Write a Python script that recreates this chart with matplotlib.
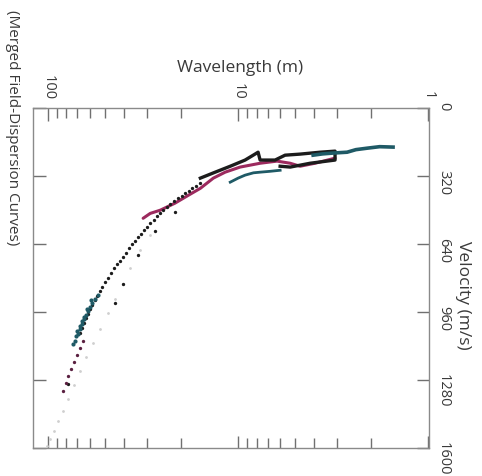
import matplotlib
matplotlib.use("Agg")
import matplotlib.pyplot as plt
from matplotlib.ticker import LogLocator, FixedLocator, NullFormatter

plt.rcParams['font.family'] = ['Open Sans', 'DejaVu Sans']

# ---- data (wavelength m, velocity m/s) ----
teal_line_wl = [1.53, 1.8, 2.09, 2.4, 2.67, 3.16, 3.6, 4.03]
teal_line_v = [184, 182, 189, 196, 208, 212, 216, 222]
teal_low_wl = [11.0, 10.0, 9.19, 8.3, 7.66, 6.8, 6.01]
teal_low_v = [349, 330, 316, 305, 302, 298, 293]

black_line_wl = [15.8, 13.2, 11.0, 9.19, 8.15, 7.85, 7.66, 6.39, 5.66, 4.72, 3.70, 3.09,
                 3.09, 4.18, 5.32, 6.01]
black_line_v = [330, 302, 274, 245, 217, 208, 245, 245, 222, 217, 208, 203,
                245, 260, 278, 274]

magenta_line_wl = [31.6, 29.0, 25.7, 21.5, 17.9, 15.8, 13.5, 11.7, 9.76, 7.66, 6.24,
                   5.32, 4.72, 3.94, 3.09]
magenta_line_v = [519, 496, 481, 448, 406, 378, 330, 302, 278, 260, 250,
                  260, 274, 260, 236]

black_dots_wl = [15.8, 16.6, 17.5, 18.2, 19.0, 19.8, 20.7, 21.7, 22.8, 23.8, 24.8, 25.7,
                 26.7, 27.8, 29.0, 30.1, 31.3, 32.4, 33.6, 34.8, 36.1, 37.4, 38.8, 40.2,
                 41.8, 43.3, 45.0, 46.6, 48.3, 50.1, 52.0, 53.6, 55.2, 56.9, 58.6, 60.0,
                 61.5, 63.1, 64.7, 66.3, 67.9, 78.5,
                 44.4, 40.3, 33.6, 21.5, 27.5]
black_dots_v = [354, 366, 378, 390, 401, 413, 425, 439, 453, 467, 481, 495,
                510, 526, 543, 560, 576, 592, 609, 625, 642, 661, 680, 699,
                718, 736, 755, 777, 798, 819, 840, 862, 883, 904, 925, 947,
                968, 989, 1010, 1034, 1057, 1298,
                916, 826, 694, 491, 578]

teal_dots_wl = [73.9, 72.1, 69.5, 67.9, 66.3, 64.7, 63.1, 61.5, 60.1, 58.6, 56.6, 54.6,
                70.3, 66.3, 62.3, 71.5, 68.0, 65.0, 59.5]
teal_dots_v = [1109, 1095, 1062, 1038, 1015, 991, 972, 953, 935, 916, 897, 878,
               1050, 1000, 945, 1075, 1025, 985, 905]

magenta_dots_wl = [65.5, 67.9, 70.3, 72.9, 75.7, 78.5, 80.4, 83.4]
magenta_dots_v = [1095, 1128, 1161, 1194, 1227, 1260, 1293, 1331]

grey_dots_wl = [29.0, 32.8, 37.0, 40.3, 44.4, 48.3, 53.2, 57.9, 63.1, 67.9, 72.9, 78.5,
                83.4, 88.6, 92.9, 97.6, 101.2]
grey_dots_v = [599, 670, 755, 826, 897, 963, 1038, 1104, 1171, 1237, 1303, 1369,
               1425, 1473, 1520, 1558, 1591]

vel_ticks = [0, 320, 640, 960, 1280, 1600]
wl_ticks = [100, 10, 1]

TEAL = "#1f5a66"
BLACK = "#1c1c1c"
MAG = "#9c2a5e"
GREY = "#cfcfcf"
TXT = "#3a3a3a"

fig = plt.figure(figsize=(4.82, 4.76), dpi=100)
W, H = 482, 476
l, r, t, b = 33, 429, 108, 448
ax = fig.add_axes([l / W, 1 - b / H, (r - l) / W, (b - t) / H])

ax.plot(grey_dots_wl, grey_dots_v, ls="none", marker="o", ms=2, color=GREY, mec="none")
ax.plot(magenta_line_wl, magenta_line_v, color=MAG, lw=2.2, solid_capstyle="round")
ax.plot(teal_low_wl, teal_low_v, color=TEAL, lw=2.0)
ax.plot(black_line_wl, black_line_v, color=BLACK, lw=2.4)
ax.plot(teal_line_wl, teal_line_v, color=TEAL, lw=2.6)
ax.plot(black_dots_wl, black_dots_v, ls="none", marker="o", ms=2.4, color=BLACK, mec="none")
ax.plot(teal_dots_wl, teal_dots_v, ls="none", marker="o", ms=3, color=TEAL, mec="none")
ax.plot(magenta_dots_wl, magenta_dots_v, ls="none", marker="o", ms=2.4, color="#5a2040", mec="none")

ax.set_xscale("log")
ax.set_xlim(120, 0.99)
ax.set_ylim(1600, 0)

for s in ax.spines.values():
    s.set_color("#8a8a8a")
    s.set_linewidth(1.0)

ax.xaxis.tick_top()
ax.xaxis.set_major_locator(FixedLocator(wl_ticks))
ax.set_xticklabels([str(v) for v in wl_ticks])
ax.xaxis.set_minor_locator(LogLocator(base=10, subs=[2, 3, 4, 5, 6, 7, 8, 9]))
ax.xaxis.set_minor_formatter(NullFormatter())
ax.tick_params(axis="x", which="both", top=True, bottom=True, direction="in",
               color="#707070", labelrotation=270, labelsize=10.5, labelcolor=TXT, pad=6)
ax.tick_params(axis="x", which="major", length=9, width=1)
ax.tick_params(axis="x", which="minor", length=7, width=1)

ax.yaxis.tick_right()
ax.set_yticks(vel_ticks)
ax.set_yticklabels([str(v) for v in vel_ticks])
ax.tick_params(axis="y", which="both", left=True, right=True, direction="in",
               length=9, width=1, color="#707070", labelrotation=270, labelsize=10.5,
               labelcolor=TXT, pad=5)

fig.text(240 / W, 1 - 68 / H, "Wavelength (m)", ha="center", va="center",
         fontsize=12.5, color=TXT)
fig.text(463 / W, 1 - 295 / H, "Velocity (m/s)", ha="center", va="center",
         rotation=270, fontsize=12.5, color=TXT)
fig.text(12 / W, 1 - 128 / H, "(Merged Field-Dispersion Curves)", ha="center", va="center",
         rotation=270, fontsize=11, color=TXT)

fig.savefig("out.png", dpi=100)
